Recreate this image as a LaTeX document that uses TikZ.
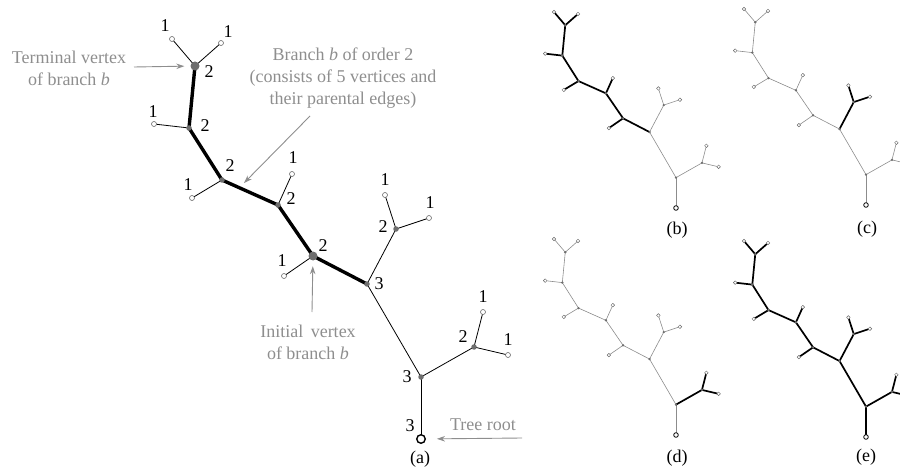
\documentclass[tikz,border=0pt]{standalone}
\usepackage{fontspec}
\setmainfont{Liberation Serif}
\usetikzlibrary{arrows.meta,backgrounds}
\definecolor{dotgray}{HTML}{6E6E6E}
\definecolor{leafgray}{HTML}{6A6A6A}
\definecolor{edgegray}{HTML}{8C8C8C}
\definecolor{annogray}{HTML}{8E8E8E}
\tikzset{
  vdot/.style={circle,inner sep=0pt,fill=dotgray,draw=none},
  vleaf/.style={circle,inner sep=0pt,fill=white,draw=leafgray},
  vroot/.style={circle,inner sep=0pt,fill=white,draw=black},
  thinedge/.style={draw=black,line width=0.8pt},
  lo/.style={draw=edgegray,line width=0.6pt},
  hi/.style={draw=black,line width=1.7pt,line cap=round},
  maintree/.style={
    dotv/.style={vdot,minimum size=5.5pt},
    bigv/.style={vdot,minimum size=9pt},
    leafv/.style={vleaf,minimum size=5pt,line width=0.6pt},
    rootv/.style={vroot,minimum size=8.5pt,line width=1.4pt},
    ebb/.style={draw=black,line width=3.4pt,line cap=round},
    ebl/.style={thinedge}, ec/.style={thinedge}, ed/.style={thinedge}, eo/.style={thinedge}},
  smalltree/.style={
    dotv/.style={vdot,minimum size=2.6pt},
    bigv/.style={vdot,minimum size=2.6pt},
    leafv/.style={vleaf,minimum size=3.6pt,line width=0.45pt},
    rootv/.style={vroot,minimum size=4.6pt,line width=0.8pt},
    ebb/.style={lo}, ebl/.style={lo}, ec/.style={lo}, ed/.style={lo}, eo/.style={lo}},
  num/.style={inner sep=0pt,font=\fontsize{18}{22}\selectfont},
  annotext/.style={text=annogray,align=center,inner sep=0pt,font=\fontsize{18}{22}\selectfont},
  annoarrow/.style={draw=annogray,line width=0.9pt,-{Stealth[length=8pt,width=5.5pt]}},
}
\newcommand\drawtree[1]{%
  \node[rootv] (#1R) at (0,0) {};
  \node[dotv] (#1V8) at (0,-62) {};
  \node[dotv] (#1V9) at (53,-92) {};
  \node[leafv] (#1L9a) at (62,-127) {};
  \node[leafv] (#1L9b) at (87,-84) {};
  \node[dotv] (#1V6) at (-54,-155) {};
  \node[dotv] (#1V7) at (-25,-210) {};
  \node[leafv] (#1L7a) at (-36,-244) {};
  \node[leafv] (#1L7b) at (8,-221) {};
  \node[bigv] (#1V5) at (-108,-183) {};
  \node[leafv] (#1L5) at (-137,-163) {};
  \node[dotv] (#1V4) at (-143,-234) {};
  \node[leafv] (#1L4) at (-129,-265) {};
  \node[dotv] (#1V3) at (-199,-259) {};
  \node[leafv] (#1L3) at (-229,-241) {};
  \node[dotv] (#1V2) at (-232,-311) {};
  \node[leafv] (#1L2) at (-267,-315) {};
  \node[bigv] (#1T) at (-226,-373) {};
  \node[leafv] (#1LTa) at (-249,-400) {};
  \node[leafv] (#1LTb) at (-200,-396) {};
  \begin{pgfonlayer}{background}
    \draw[eo] (#1R.center) -- (#1V8.center);
    \draw[eo] (#1V8.center) -- (#1V6.center);
    \draw[ed] (#1V8.center) -- (#1V9.center);
    \draw[ed] (#1V9.center) -- (#1L9a.center);
    \draw[ed] (#1V9.center) -- (#1L9b.center);
    \draw[ec] (#1V6.center) -- (#1V7.center);
    \draw[ec] (#1V7.center) -- (#1L7a.center);
    \draw[ec] (#1V7.center) -- (#1L7b.center);
    \draw[ebl] (#1V5.center) -- (#1L5.center);
    \draw[ebl] (#1V4.center) -- (#1L4.center);
    \draw[ebl] (#1V3.center) -- (#1L3.center);
    \draw[ebl] (#1V2.center) -- (#1L2.center);
    \draw[ebl] (#1T.center) -- (#1LTa.center);
    \draw[ebl] (#1T.center) -- (#1LTb.center);
    \draw[ebb] (#1V6.center) -- (#1V5.center);
    \draw[ebb] (#1V5.center) -- (#1V4.center);
    \draw[ebb] (#1V4.center) -- (#1V3.center);
    \draw[ebb] (#1V3.center) -- (#1V2.center);
    \draw[ebb] (#1V2.center) -- (#1T.center);
  \end{pgfonlayer}
}
\begin{document}
\begin{tikzpicture}[x=1pt,y=-1pt]
\useasboundingbox (0,0) rectangle (900,468);
% main tree (a)
\begin{scope}[shift={(421,439)},maintree]
  \drawtree{a}
\end{scope}
% order labels
\node[num] (nT) at (209,72) {2};
\node[num] (nLTa) at (165,26) {1};
\node[num] (nLTb) at (228,32) {1};
\node[num] (nV2) at (205,126) {2};
\node[num] (nL2) at (153,112) {1};
\node[num] (nV3) at (230,166) {2};
\node[num] (nL3) at (188,185) {1};
\node[num] (nV4) at (291,199) {2};
\node[num] (nL4) at (293,158) {1};
\node[num] (nV5) at (323,246) {2};
\node[num] (nL5) at (282,261) {1};
\node[num] (nV6) at (379,284) {3};
\node[num] (nV7) at (383,227) {2};
\node[num] (nL7a) at (385,180) {1};
\node[num] (nL7b) at (430,203) {1};
\node[num] (nV8) at (407,377) {3};
\node[num] (nV9) at (463,337) {2};
\node[num] (nL9a) at (483,297) {1};
\node[num] (nL9b) at (508,340) {1};
\node[num] (nR) at (410,426) {3};
\node[num] (capa) at (420,459) {(a)};
% annotations
\node[annotext] (termtxt) at (69,68) {Terminal vertex\\of branch \textit{b}};
\coordinate (s1) at (134,67);
\draw[annoarrow,shorten >=6pt] (s1) -- (aT);
\node[annotext] (branchtxt) at (343,78) {Branch \textit{b} of order 2\\(consists of 5 vertices and\\their parental edges)};
\coordinate (s2) at (310,116);
\coordinate (e2) at (244,183);
\draw[annoarrow] (s2) -- (e2);
\node[annotext] (inittxt) at (308,342) {Initial\, vertex\\of branch \textit{b}};
\coordinate (s3) at (312,312);
\draw[annoarrow,shorten >=5.5pt] (s3) -- (aV5);
\node[annotext] (roottxt) at (483,425) {Tree root};
\coordinate (s4) at (522,438);
\draw[annoarrow,shorten >=11pt] (s4) -- (aR);
% small trees
\begin{scope}[shift={(676,208)},scale=0.49,smalltree,ebb/.style={hi},ebl/.style={hi}]
  \drawtree{b}
\end{scope}
\begin{scope}[shift={(866,205)},scale=0.49,smalltree,ec/.style={hi}]
  \drawtree{c}
\end{scope}
\begin{scope}[shift={(676,435)},scale=0.49,smalltree,ed/.style={hi}]
  \drawtree{d}
\end{scope}
\begin{scope}[shift={(866,437)},scale=0.49,smalltree,ebb/.style={hi},ebl/.style={hi},ec/.style={hi},ed/.style={hi},eo/.style={hi}]
  \drawtree{e}
\end{scope}
\node[num] (capb) at (677,230) {(b)};
\node[num] (capc) at (867,229) {(c)};
\node[num] (capd) at (677,458) {(d)};
\node[num] (cape) at (866,457) {(e)};
\end{tikzpicture}
\end{document}
